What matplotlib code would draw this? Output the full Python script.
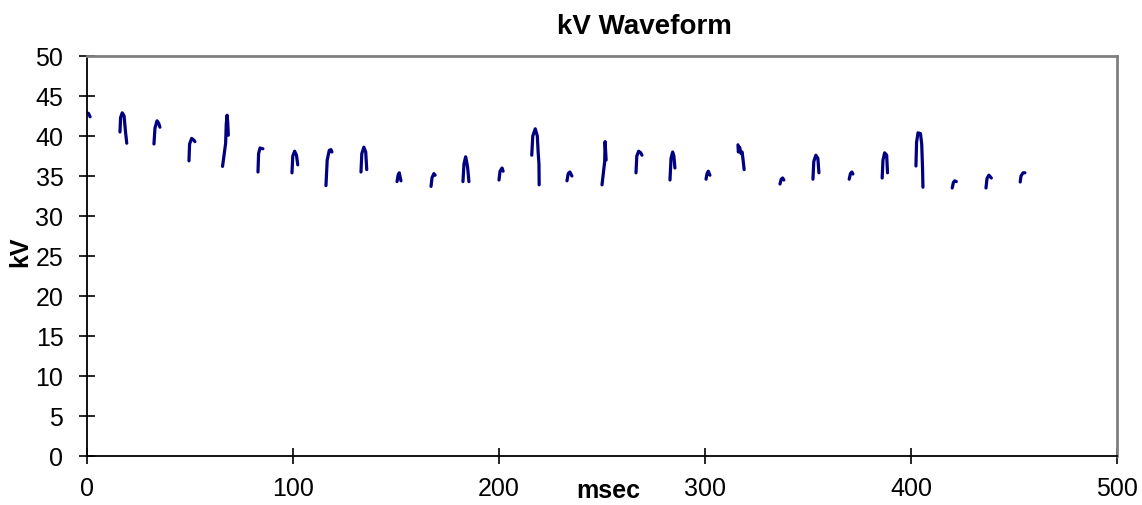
import numpy as np
import matplotlib
matplotlib.use("Agg")
import matplotlib.pyplot as plt

plt.rcParams["font.family"] = ["Liberation Sans", "DejaVu Sans"]

# each pulse: (time in msec, kV) points; pulses separated by gaps
pulse_msec = [
    [0.0, 0.8, 1.5],
    [16.0, 16.3, 17.1, 18.0, 18.7, 19.3],
    [32.5, 33.0, 34.0, 34.8, 35.4],
    [49.5, 49.8, 50.8, 51.8, 52.4],
    [65.8, 67.3, 67.6, 68.0, 68.3, 68.6],
    [83.0, 83.3, 84.0, 85.4],
    [99.5, 99.9, 100.8, 101.7, 102.3],
    [116.0, 116.6, 117.6, 118.4, 118.9],
    [133.0, 133.4, 134.4, 135.3, 135.8],
    [150.5, 151.0, 151.6, 152.4],
    [167.0, 167.5, 168.4, 169.0],
    [182.5, 183.0, 183.8, 184.3, 184.8, 185.4],
    [200.0, 200.5, 201.5, 202.0],
    [215.9, 216.4, 217.6, 218.6, 219.0, 219.4, 219.5],
    [233.0, 233.6, 234.4, 235.4],
    [250.0, 250.5, 251.3, 251.5, 251.8, 252.0],
    [266.5, 266.9, 267.8, 268.8, 269.4],
    [283.0, 283.5, 284.3, 284.9, 285.4],
    [300.5, 301.0, 301.6, 302.4],
    [316.0, 316.2, 316.8, 317.5, 318.0, 318.5, 319.0],
    [336.4, 337.0, 337.7, 338.3],
    [352.4, 352.8, 353.8, 354.8, 355.3],
    [370.0, 370.6, 371.3, 371.8],
    [386.0, 386.4, 387.2, 388.2, 388.6],
    [402.4, 402.7, 403.4, 404.6, 405.2, 405.6, 405.8],
    [420.0, 420.6, 421.2, 422.0],
    [436.4, 436.9, 437.8, 439.0],
    [453.0, 453.4, 454.4, 455.3],
]
pulse_kv = [
    [42.9, 42.8, 42.4],
    [40.5, 42.3, 42.9, 42.5, 40.5, 39.1],
    [39.0, 41.0, 41.9, 41.6, 41.1],
    [36.9, 39.0, 39.7, 39.5, 39.3],
    [36.2, 39.1, 41.5, 42.6, 41.8, 40.1],
    [35.5, 37.8, 38.5, 38.4],
    [35.4, 37.5, 38.1, 37.6, 36.4],
    [33.8, 37.0, 38.2, 38.3, 38.0],
    [35.5, 37.8, 38.6, 38.0, 35.8],
    [34.3, 35.1, 35.4, 34.4],
    [33.7, 34.8, 35.3, 35.1],
    [34.3, 36.5, 37.4, 36.8, 36.0, 34.3],
    [34.5, 35.6, 36.0, 35.6],
    [37.6, 40.0, 40.9, 40.0, 38.0, 36.5, 33.9],
    [34.4, 35.3, 35.5, 35.0],
    [33.9, 35.0, 36.8, 39.3, 38.0, 37.0],
    [35.4, 37.5, 38.1, 37.9, 37.6],
    [34.5, 37.2, 38.0, 37.5, 36.0],
    [34.6, 35.3, 35.6, 35.1],
    [38.9, 38.0, 38.6, 37.8, 38.0, 37.0, 35.8],
    [34.0, 34.6, 34.75, 34.5],
    [34.6, 36.8, 37.6, 37.2, 35.4],
    [34.6, 35.3, 35.5, 35.25],
    [34.75, 37.0, 37.9, 37.6, 35.4],
    [36.25, 39.2, 40.4, 40.3, 39.0, 36.0, 33.6],
    [33.5, 34.2, 34.4, 34.3],
    [33.5, 34.7, 35.1, 34.75],
    [34.25, 35.0, 35.4, 35.4],
]

x_ticks = [0, 100, 200, 300, 400, 500]
y_ticks = list(range(0, 55, 5))

# join pulses into one trace with NaN breaks
msec, kv = [], []
for t, v in zip(pulse_msec, pulse_kv):
    msec += t + [np.nan]
    kv += v + [np.nan]

fig = plt.figure(figsize=(11.42, 5.05), dpi=100)
ax = fig.add_axes([87 / 1142, 49 / 505, 1030 / 1142, 400 / 505])

ax.plot(msec, kv, color="#000080", lw=2.3, solid_capstyle="round")

ax.set_xlim(0, 500)
ax.set_ylim(0, 50)
ax.set_xticks(x_ticks)
ax.set_yticks(y_ticks)
ax.tick_params(direction="inout", length=12, width=1.2, labelsize=18)
ax.tick_params(axis="x", pad=9)
ax.tick_params(axis="y", pad=11)
for s in ("left", "bottom"):
    ax.spines[s].set_color("black")
    ax.spines[s].set_linewidth(1.3)
for s in ("top", "right"):
    ax.spines[s].set_color("#808080")
    ax.spines[s].set_linewidth(2)

fig.text(644 / 1142, 1 - 27 / 505, "kV Waveform", ha="center", va="center",
         fontsize=20, fontweight="bold")
fig.text(608 / 1142, 1.5 / 505, "msec", ha="center", va="bottom",
         fontsize=18, fontweight="bold")
fig.text(20 / 1142, 1 - 252 / 505, "kV", ha="center", va="center",
         fontsize=18, fontweight="bold", rotation=90)

fig.savefig("out.png", dpi=100)
